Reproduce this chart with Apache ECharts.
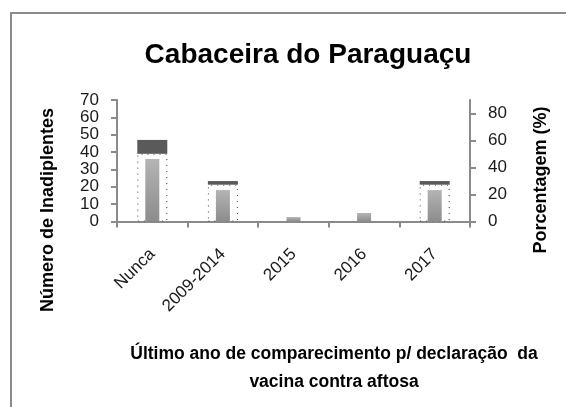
<!DOCTYPE html>
<html>
<head>
<meta charset="utf-8">
<script src="https://cdn.jsdelivr.net/npm/echarts@6/dist/echarts.min.js"></script>
<style>
html,body{margin:0;padding:0;background:#fff;}
#chart{width:566px;height:407px;}
</style>
</head>
<body>
<div id="chart"></div>
<script>
// ---- data ----
const categories = ['Nunca', '2009-2014', '2015', '2016', '2017'];
// Número de Inadiplentes (left axis): dark cap spans lower..upper
const countUpper = [47, 23.3, null, null, 23.3];
const countLower = [39, 21.2, null, null, 21.2];
// Porcentagem (%) (right axis)
const percentages = [46.3, 23.3, 3.3, 6.3, 23.3];
const leftTicks = [0, 10, 20, 30, 40, 50, 60, 70];
const rightTicks = [0, 20, 40, 60, 80];

const capValues = countUpper.map((u, i) => (u == null ? null : u - countLower[i]));

const FONT = '"Liberation Sans", Arial, sans-serif';
const axisGray = '#8a8a8a';

const chart = echarts.init(document.getElementById('chart'), null, {renderer: 'canvas'});
chart.setOption({
  animation: false,
  backgroundColor: '#ffffff',
  title: {
    text: 'Cabaceira do Paraguaçu',
    left: 303, top: 36,
    textAlign: 'center',
    textStyle: {fontFamily: FONT, fontWeight: 'bold', fontSize: 28, color: '#000'}
  },
  grid: {left: 117, right: 96, top: 100, bottom: 185.5, containLabel: false},
  xAxis: [
    {
      type: 'category', data: categories, position: 'bottom',
      axisLine: {show: true, lineStyle: {color: axisGray, width: 2}},
      axisTick: {show: true, length: 6, lineStyle: {color: axisGray, width: 2}},
      axisLabel: {rotate: 45, margin: 30, fontFamily: FONT, fontSize: 17, color: '#1a1a1a'},
      splitLine: {show: false}
    },
    {type: 'category', data: categories, show: false}
  ],
  yAxis: [
    {
      type: 'value', min: leftTicks[0], max: leftTicks[leftTicks.length - 1], interval: 10,
      position: 'left',
      axisLine: {show: true, lineStyle: {color: axisGray, width: 2}},
      axisTick: {show: true, length: 6, lineStyle: {color: axisGray, width: 2}},
      axisLabel: {margin: 18, fontFamily: FONT, fontSize: 17, color: '#1a1a1a'},
      splitLine: {show: false}
    },
    {
      type: 'value', min: 0, max: 90, interval: 20,
      position: 'right',
      axisLine: {show: true, lineStyle: {color: axisGray, width: 2}},
      axisTick: {show: true, length: 6, customValues: rightTicks, lineStyle: {color: axisGray, width: 2}},
      axisLabel: {margin: 18, customValues: rightTicks, fontFamily: FONT, fontSize: 17, color: '#1a1a1a'},
      splitLine: {show: false}
    }
  ],
  series: [
    {
      name: 'base', type: 'bar', stack: 'n', xAxisIndex: 0, yAxisIndex: 0,
      data: countLower, barWidth: 30,
      itemStyle: {color: 'rgba(0,0,0,0)', borderColor: '#444', borderWidth: 1, borderType: [1, 5]},
      silent: true
    },
    {
      name: 'Número de Inadiplentes', type: 'bar', stack: 'n', xAxisIndex: 0, yAxisIndex: 0,
      data: capValues, barWidth: 30,
      itemStyle: {color: '#5a5a5a'}
    },
    {
      name: 'Porcentagem (%)', type: 'bar', xAxisIndex: 1, yAxisIndex: 1,
      data: percentages, barWidth: 14, z: 3,
      itemStyle: {
        color: new echarts.graphic.LinearGradient(0, 0, 0, 1, [
          {offset: 0, color: '#b4b4b4'}, {offset: 1, color: '#8c8c8c'}
        ])
      }
    }
  ],
  graphic: [
    {type: 'polyline', shape: {points: [[11, 407], [11, 13], [566, 13]]}, style: {fill: null, stroke: '#8a8a8a', lineWidth: 2}, silent: true, z: 100},
    {type: 'text', x: 48, y: 210, rotation: Math.PI / 2,
      style: {text: 'Número de Inadiplentes', fontFamily: FONT, fontWeight: 'bold', fontSize: 18, fill: '#000', align: 'center', verticalAlign: 'middle'}},
    {type: 'text', x: 541, y: 180, rotation: Math.PI / 2,
      style: {text: 'Porcentagem (%)', fontFamily: FONT, fontWeight: 'bold', fontSize: 18, fill: '#000', align: 'center', verticalAlign: 'middle'}},
    {type: 'text', x: 334, y: 354,
      style: {text: 'Último ano de comparecimento p/ declaração  da', fontFamily: FONT, fontWeight: 'bold', fontSize: 17.5, fill: '#000', align: 'center', verticalAlign: 'middle'}},
    {type: 'text', x: 334, y: 382,
      style: {text: 'vacina contra aftosa', fontFamily: FONT, fontWeight: 'bold', fontSize: 17.5, fill: '#000', align: 'center', verticalAlign: 'middle'}}
  ]
});
</script>
</body>
</html>
